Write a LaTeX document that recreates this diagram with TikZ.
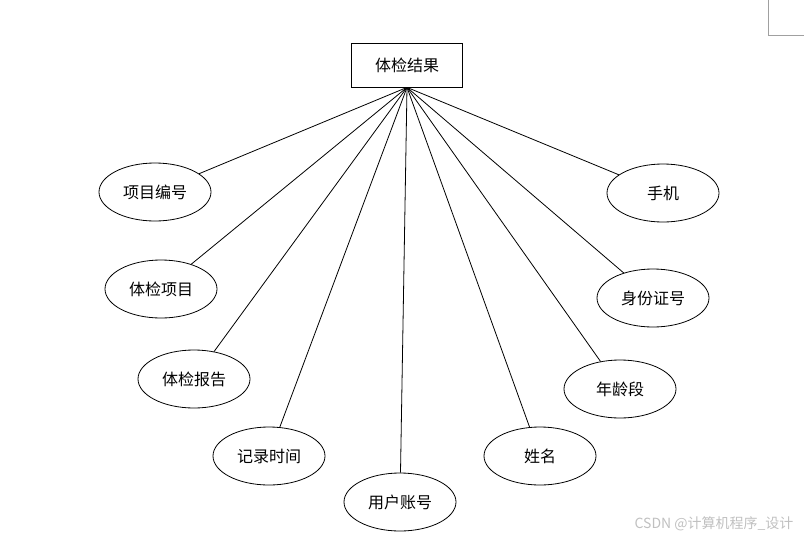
\documentclass[tikz,border=0pt]{standalone}
\usepackage{fontspec}
\setmainfont{Liberation Serif}
\newfontfamily\cjk{Noto Sans CJK SC}
\usetikzlibrary{shapes.geometric}
\definecolor{ERLine}{HTML}{000000}
\definecolor{ERMark}{HTML}{A0A0A0}
\definecolor{ERWater}{HTML}{C0C0C0}

\begin{document}
\begin{tikzpicture}[x=1pt,y=-1pt]
  \tikzstyle{entity}=[draw=ERLine,line width=0.8pt,minimum width=111pt,
    minimum height=44pt,font=\cjk\fontsize{16}{19}\selectfont]
  \tikzstyle{attr}=[draw=ERLine,line width=0.8pt,ellipse,minimum width=112pt,
    minimum height=58pt,inner sep=0pt,font=\cjk\fontsize{16}{19}\selectfont]
  \useasboundingbox (0,0) rectangle (804,541);
  \node[entity] (res) at (407,65) {体检结果};
  \node[attr] (a1) at (155,192) {项目编号};
  \node[attr] (a2) at (161,289) {体检项目};
  \node[attr] (a3) at (194,379) {体检报告};
  \node[attr] (a4) at (269,456) {记录时间};
  \node[attr] (a5) at (400,502) {用户账号};
  \node[attr] (a6) at (540,456) {姓名};
  \node[attr] (a7) at (620,389) {年龄段};
  \node[attr] (a8) at (653,298) {身份证号};
  \node[attr] (a9) at (663,193) {手机};
  \foreach \i in {1,...,9}
    \draw[line width=0.8pt,color=ERLine] (res.south) -- (a\i);
  % page corner mark
  \coordinate (m1) at (768,0);
  \coordinate (m2) at (768,35);
  \coordinate (m3) at (804,35);
  \draw[color=ERMark,line width=1pt] (m1) -- (m2) -- (m3);
  \node[anchor=east,color=ERWater,font=\cjk\fontsize{14}{16}\selectfont]
    (wm) at (797,524) {CSDN @计算机程序\_设计};
\end{tikzpicture}
\end{document}
